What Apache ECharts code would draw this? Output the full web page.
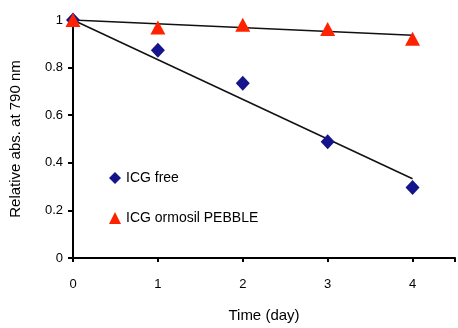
<!DOCTYPE html>
<html><head><meta charset="utf-8">
<script src="https://cdn.jsdelivr.net/npm/echarts@6/dist/echarts.min.js"></script>
<style>html,body{margin:0;padding:0;background:#fff}#c{width:458px;height:328px}</style>
</head><body><div id="c"></div>
<script>
var days = [0, 1, 2, 3, 4];
var icgFree = [1.0, 0.873, 0.734, 0.488, 0.296];
var icgPebble = [1.0, 0.969, 0.98, 0.962, 0.921];
var trendDays = [0, 4];
var trendFree = [1.0, 0.333];
var trendPebble = [1.0, 0.936];
var xTicks = [0, 1, 2, 3, 4];
var yTicks = [0, 0.2, 0.4, 0.6, 0.8, 1];

function pairs(xs, ys){ return xs.map(function(x,i){ return [x, ys[i]]; }); }
var font = 'Liberation Sans, Arial, sans-serif';
var chart = echarts.init(document.getElementById('c'));
chart.setOption({
  animation: false,
  backgroundColor: '#fff',
  grid: {left: 72, right: 0, top: 20, bottom: 64},
  legend: {
    orient: 'vertical', left: 104, top: 166, itemGap: 26,
    itemWidth: 12, itemHeight: 12,
    textStyle: {color: '#000', fontSize: 14, fontFamily: font},
    data: ['ICG free', 'ICG ormosil PEBBLE']
  },
  xAxis: {
    type: 'value', min: 0, max: 4.5, interval: 1,
    name: 'Time (day)', nameLocation: 'middle', nameGap: 50,
    nameTextStyle: {color: '#000', fontSize: 15, fontFamily: font},
    axisLine: {lineStyle: {color: '#000', width: 2}},
    axisTick: {show: true, inside: false, length: 4, lineStyle: {color: '#000', width: 2}},
    axisLabel: {color: '#000', fontSize: 13, fontFamily: font, margin: 20,
      formatter: function(v){ return xTicks.indexOf(v) >= 0 ? String(v) : ''; }},
    splitLine: {show: false}
  },
  yAxis: {
    type: 'value', min: 0, max: 1, interval: 0.2,
    name: 'Relative abs. at 790 nm', nameLocation: 'middle', nameGap: 50,
    nameTextStyle: {color: '#000', fontSize: 15, fontFamily: font},
    axisLine: {show: true, lineStyle: {color: '#000', width: 2}},
    axisTick: {show: true, length: 5, lineStyle: {color: '#000', width: 2}},
    axisLabel: {color: '#000', fontSize: 13, fontFamily: font, margin: 10,
      formatter: function(v){ var r = Math.round(v*10)/10; return yTicks.indexOf(r) >= 0 ? String(r) : ''; }},
    splitLine: {show: false}
  },
  series: [
    {name: 'trendFree', type: 'line', data: pairs(trendDays, trendFree), symbol: 'none',
     lineStyle: {color: '#111', width: 1.5}, z: 1, silent: true},
    {name: 'trendPebble', type: 'line', data: pairs(trendDays, trendPebble), symbol: 'none',
     lineStyle: {color: '#111', width: 1.5}, z: 1, silent: true},
    {name: 'ICG free', type: 'scatter', data: pairs(days, icgFree), symbol: 'diamond',
     symbolSize: [14, 15], itemStyle: {color: '#14148c', opacity: 1}, z: 3},
    {name: 'ICG ormosil PEBBLE', type: 'scatter', data: pairs(days, icgPebble), symbol: 'triangle',
     symbolSize: [15, 14], itemStyle: {color: '#ff2200', opacity: 1}, z: 4}
  ]
});
</script></body></html>
